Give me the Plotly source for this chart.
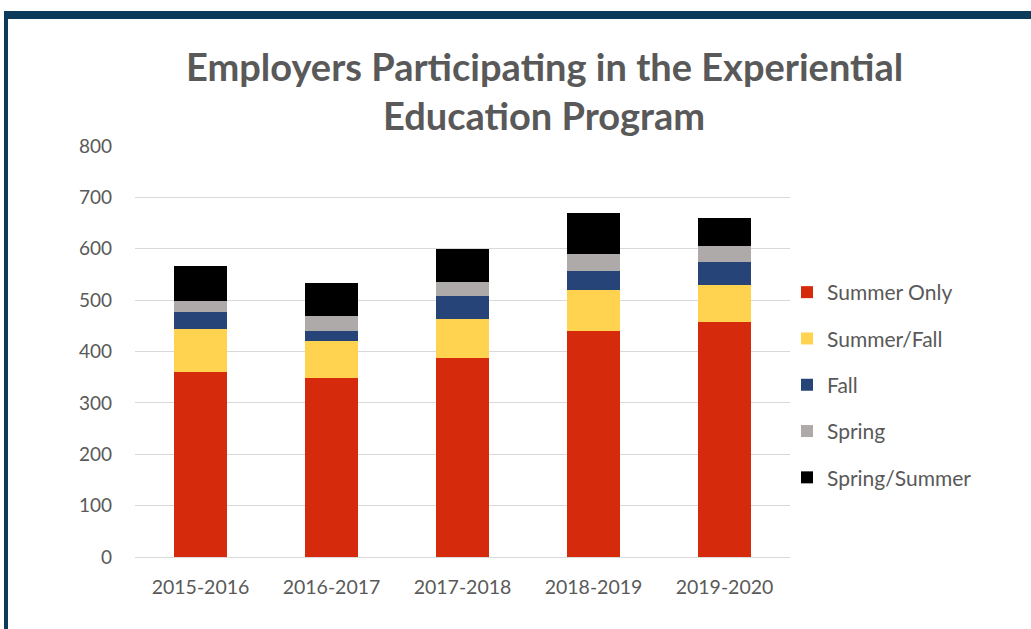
import plotly.graph_objects as go

years = ["2015-2016", "2016-2017", "2017-2018", "2018-2019", "2019-2020"]
summer_only = [361, 348, 387, 440, 457]
summer_fall = [82, 72, 76, 80, 72]
fall = [34, 20, 46, 37, 45]
spring = [22, 30, 27, 32, 31]
spring_summer = [67, 63, 64, 80, 54]

series = [
    ("Summer Only", summer_only, "#d52b0c"),
    ("Summer/Fall", summer_fall, "#ffd34f"),
    ("Fall", fall, "#264478"),
    ("Spring", spring, "#aeaaaa"),
    ("Spring/Summer", spring_summer, "#000000"),
]

W, H = 1031, 629
L, R, T, B = 135, 790, 146, 557

fig = go.Figure()
for name, vals, col in series:
    fig.add_trace(go.Bar(
        x=years, y=vals, name=name, legendgroup=name,
        marker=dict(color=col, line=dict(width=0)),
    ))

FONT = "Lato, Open Sans, sans-serif"
GRAY = "#595959"

def px_x(x):
    return (x - L) / (R - L)

def px_y(y):
    return (B - y) / (B - T)

shapes = [
    dict(type="rect", xref="paper", yref="paper",
         x0=px_x(4), x1=px_x(8), y0=px_y(640), y1=px_y(11),
         fillcolor="#0b3a5a", line=dict(width=0), layer="above"),
    dict(type="rect", xref="paper", yref="paper",
         x0=px_x(4), x1=px_x(1040), y0=px_y(19), y1=px_y(11),
         fillcolor="#0b3a5a", line=dict(width=0), layer="above"),
]

fig.update_layout(
    width=W, height=H,
    margin=dict(l=L, r=W - R, t=T, b=H - B),
    paper_bgcolor="white", plot_bgcolor="white",
    barmode="stack", bargap=0.6,
    font=dict(family=FONT, color=GRAY),
    shapes=shapes,
    annotations=[
        dict(text="<b>Employers Participating in the Experiential</b>",
             xref="paper", yref="paper", x=px_x(544), y=px_y(66),
             xanchor="center", yanchor="middle", showarrow=False,
             font=dict(size=38, color=GRAY, family=FONT)),
        dict(text="<b>Education Program</b>",
             xref="paper", yref="paper", x=px_x(544), y=px_y(115),
             xanchor="center", yanchor="middle", showarrow=False,
             font=dict(size=38, color=GRAY, family=FONT)),
    ],
    xaxis=dict(showgrid=False, showline=True, linecolor="#d9d9d9", linewidth=1,
               ticks="", ticklabelstandoff=13,
               tickfont=dict(size=19.5, color=GRAY, family=FONT)),
    yaxis=dict(range=[0, 800], dtick=100, showgrid=True, gridcolor="#d9d9d9",
               gridwidth=1, zeroline=False, showline=False, ticks="",
               ticklabelstandoff=22,
               tickfont=dict(size=19, color=GRAY, family=FONT)),
    legend=dict(x=px_x(787), y=px_y(272), xanchor="left", yanchor="top",
                traceorder="grouped", tracegroupgap=16,
                font=dict(size=21, color=GRAY, family=FONT),
                itemwidth=30, bgcolor="rgba(0,0,0,0)"),
)

fig.write_html("out.html", config={"displayModeBar": False},
               post_script="document.body.style.margin='0';")
